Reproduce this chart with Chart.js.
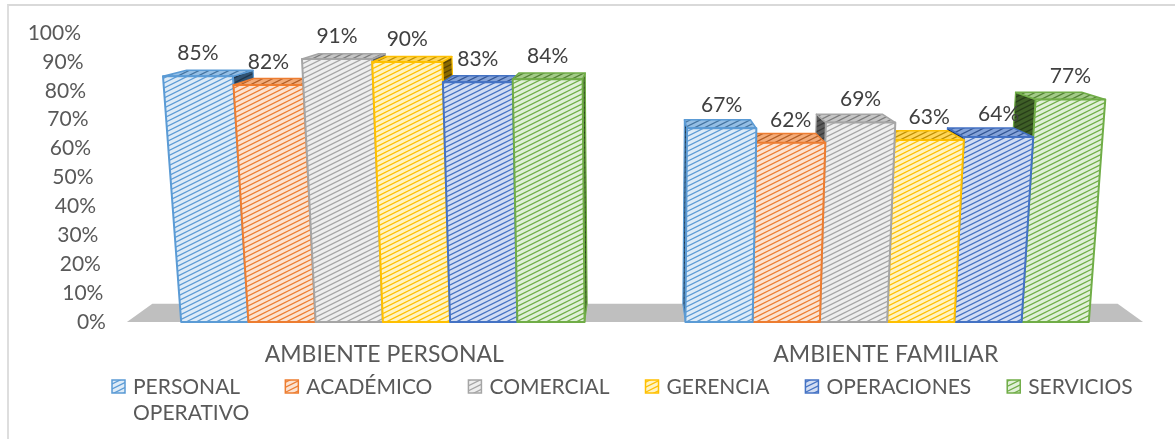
<!DOCTYPE html>
<html>
<head>
<meta charset="utf-8">
<script src="https://cdn.jsdelivr.net/npm/chart.js@4.4.1/dist/chart.umd.min.js"></script>
<style>
  html, body { margin: 0; padding: 0; background: #fff; }
  #wrap { position: relative; width: 1175px; height: 439px; overflow: hidden; }
  #frame { position: absolute; left: 7px; top: 4px; right: -4px; bottom: -4px; border-top: 2px solid #d9d9d9; border-left: 2px solid #dedede; }
  canvas { position: absolute; left: 0; top: 0; }
</style>
</head>
<body>
<div id="wrap">
  <div id="frame"></div>
  <canvas id="chart" width="1175" height="439"></canvas>
</div>
<script>
// data (percent)
const categories = ["AMBIENTE PERSONAL", "AMBIENTE FAMILIAR"];
const seriesNames = ["PERSONAL OPERATIVO", "ACADÉMICO", "COMERCIAL", "GERENCIA", "OPERACIONES", "SERVICIOS"];
const personalOperativo = [85, 67];
const academico = [82, 62];
const comercial = [91, 69];
const gerencia = [90, 63];
const operaciones = [83, 64];
const servicios = [84, 77];
const yTickValues = [0, 10, 20, 30, 40, 50, 60, 70, 80, 90, 100];

const seriesValues = [personalOperativo, academico, comercial, gerencia, operaciones, servicios];

// excel-ish colours: outline / light tint
const palette = [
    { line: "#5b9bd5", light: "#deebf7" },
    { line: "#ed7d31", light: "#fbe3d2" },
    { line: "#a5a5a5", light: "#eeeeee" },
    { line: "#ffc000", light: "#fff3c4" },
    { line: "#4472c4", light: "#d2ddf2" },
    { line: "#70ad47", light: "#e1f0d8" }
];

const FONT = "Lato, 'Open Sans', sans-serif";
const TEXT = "#595959";

function mix(hex, other, t) {
    const a = parseInt(hex.slice(1), 16), b = parseInt(other.slice(1), 16);
    const ch = (n, s) => (n >> s) & 255;
    const c = s => Math.round(ch(a, s) * (1 - t) + ch(b, s) * t);
    return "rgb(" + c(16) + "," + c(8) + "," + c(0) + ")";
}

// diagonal hatch tile (wide upward diagonal)
function hatch(bg, fg, lw) {
    const c = document.createElement("canvas");
    c.width = 20; c.height = 10;
    const g = c.getContext("2d");
    g.fillStyle = bg;
    g.fillRect(0, 0, 20, 10);
    g.strokeStyle = fg;
    g.lineWidth = lw || 1.3;
    for (let k = -1; k <= 5; k++) {
        const c0 = k * 5;
        g.beginPath();
        g.moveTo(-2, c0 + 1);
        g.lineTo(22, c0 - 11);
        g.stroke();
    }
    return g.createPattern(c, "repeat");
}

const fills = palette.map(p => ({
    front: hatch(p.light, p.line, 1.2),
    top: hatch(mix(p.line, "#ffffff", 0.35), mix(p.line, "#000000", 0.25), 1.2),
    side: hatch(mix(p.line, "#000000", 0.45), mix(p.line, "#000000", 0.65), 1.2),
    line: p.line
}));

// perspective helpers built on the chart area
function persp(area) {
    const cx = (area.left + area.right) / 2;
    const h = area.bottom - area.top;
    const s = y => 1 - 0.045 * (y - area.top) / h;
    const P = (x, y) => [cx + (x - cx) * s(y), y];
    const V = [cx, area.top - 78];
    const back = p => [p[0] + (V[0] - p[0]) * 0.05, p[1] + (V[1] - p[1]) * 0.05];
    return { cx, P, back };
}

function poly(ctx, pts, fill, stroke, lw) {
    ctx.beginPath();
    ctx.moveTo(pts[0][0], pts[0][1]);
    for (let i = 1; i < pts.length; i++) ctx.lineTo(pts[i][0], pts[i][1]);
    ctx.closePath();
    if (fill) { ctx.fillStyle = fill; ctx.fill(); }
    if (stroke) { ctx.strokeStyle = stroke; ctx.lineWidth = lw; ctx.lineJoin = "round"; ctx.stroke(); }
}

const bars3d = {
    id: "bars3d",
    beforeDatasetsDraw(chart) {
        const ctx = chart.ctx;
        const area = chart.chartArea;
        const { cx, P, back } = persp(area);
        ctx.save();

        // floor
        const fl = P(area.left - 4, area.bottom), fr = P(area.right + 4, area.bottom);
        poly(ctx, [fl, fr, back(fr), back(fl)], "#bfbfbf");

        // collect bar elements from the library
        const bars = [];
        chart.data.datasets.forEach((ds, di) => {
            chart.getDatasetMeta(di).data.forEach((el, i) => {
                const p = el.getProps(["x", "y", "base", "width"], true);
                bars.push({ di, v: ds.data[i], x: p.x, y: p.y, base: p.base, w: p.width });
            });
        });
        // paint far ones first so nearer faces cover them
        bars.sort((a, b) => Math.abs(b.x - cx) - Math.abs(a.x - cx));

        bars.forEach(b => {
            const f = fills[b.di];
            const xl = b.x - b.w / 2, xr = b.x + b.w / 2;
            const tl = P(xl, b.y), tr = P(xr, b.y), br = P(xr, b.base), bl = P(xl, b.base);
            if (b.x < cx) poly(ctx, [tr, back(tr), back(br), br], f.side, f.line, 1.2);
            else poly(ctx, [tl, back(tl), back(bl), bl], f.side, f.line, 1.2);
            poly(ctx, [tl, tr, back(tr), back(tl)], f.top, f.line, 1.5);
            poly(ctx, [tl, tr, br, bl], f.front, f.line, 2);
        });

        // value labels
        ctx.font = "21px " + FONT;
        ctx.fillStyle = "#404040";
        ctx.textAlign = "center";
        ctx.textBaseline = "middle";
        bars.forEach(b => {
            ctx.fillText(b.v + "%", P(b.x, b.y)[0], b.y - 23);
        });
        ctx.restore();
        return false;
    },
    afterDraw(chart) {
        const ctx = chart.ctx;
        const area = chart.chartArea;
        const { P } = persp(area);
        ctx.save();
        ctx.font = "21px " + FONT;
        ctx.fillStyle = TEXT;
        ctx.textBaseline = "middle";

        // y tick labels, leaning with the perspective
        ctx.textAlign = "right";
        chart.scales.y.ticks.forEach(t => {
            const yy = chart.scales.y.getPixelForValue(t.value);
            ctx.fillText(t.value + "%", P(area.left - 26, yy)[0], yy);
        });

        // category labels
        ctx.font = "23px " + FONT;
        ctx.textAlign = "center";
        const xs = chart.scales.x;
        const ly = area.bottom + 33;
        chart.data.labels.forEach((lab, i) => {
            ctx.fillText(lab, P(xs.getPixelForTick(i), ly)[0], ly);
        });

        // legend: entries side by side, the long first one wraps like in excel
        ctx.font = "21px " + FONT;
        ctx.textAlign = "left";
        let bx = 112;
        const ly0 = area.bottom + 65;
        chart.data.datasets.forEach((ds, i) => {
            ctx.fillStyle = fills[i].front;
            ctx.fillRect(bx, ly0 - 7, 13, 13);
            ctx.strokeStyle = fills[i].line;
            ctx.lineWidth = 1.5;
            ctx.strokeRect(bx, ly0 - 7, 13, 13);
            ctx.fillStyle = TEXT;
            const lines = ctx.measureText(ds.label).width > 150 ? ds.label.split(" ") : [ds.label];
            let wmax = 0;
            lines.forEach((ln, j) => {
                ctx.fillText(ln, bx + 21, ly0 + j * 26);
                wmax = Math.max(wmax, ctx.measureText(ln).width);
            });
            bx += 21 + wmax + 36;
        });
        ctx.restore();
    }
};

const datasets = seriesNames.map((name, i) => ({
    label: name,
    data: seriesValues[i],
    backgroundColor: palette[i].light,
    borderColor: palette[i].line,
    borderWidth: 2
}));

new Chart(document.getElementById("chart"), {
    type: "bar",
    data: { labels: categories, datasets: datasets },
    options: {
        responsive: false,
        animation: false,
        events: [],
        datasets: { bar: { categoryPercentage: 0.8, barPercentage: 1.0 } },
        layout: { padding: { left: 107, right: 12, top: 33, bottom: 117 } },
        scales: {
            x: { display: false },
            y: {
                display: false,
                min: 0,
                max: 100,
                afterBuildTicks: s => { s.ticks = yTickValues.map(v => ({ value: v })); }
            }
        },
        plugins: {
            legend: { display: false },
            tooltip: { enabled: false }
        }
    },
    plugins: [bars3d]
});
</script>
</body>
</html>
